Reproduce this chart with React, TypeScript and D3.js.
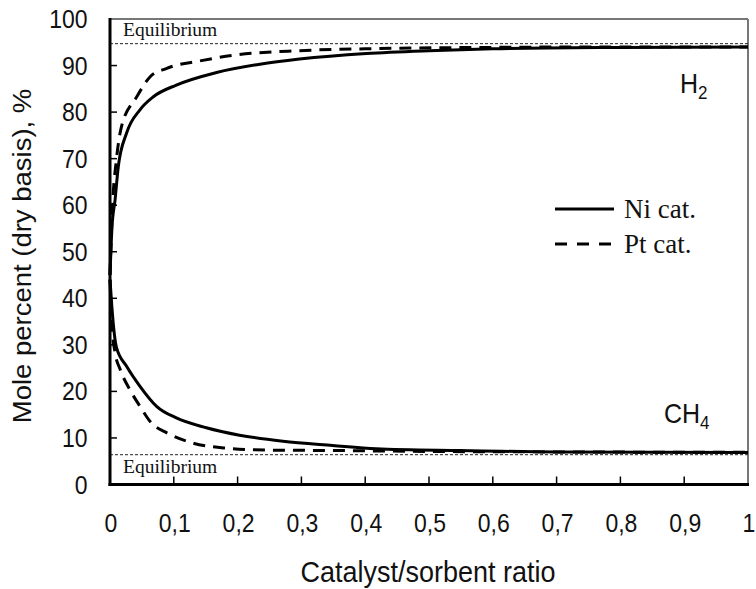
import React from "react";
import * as d3 from "d3";

const niH2X = [0, 0.003, 0.008, 0.013, 0.026, 0.047, 0.068, 0.104, 0.167, 0.235, 0.297, 0.402, 0.5, 0.6, 0.8, 1.0];
const niH2Y = [45, 55, 61.2, 68.3, 75.5, 80.5, 83.3, 85.8, 88.5, 90.3, 91.4, 92.6, 93.2, 93.6, 93.9, 94.0];

const ptH2X = [0, 0.004, 0.01, 0.018, 0.042, 0.063, 0.089, 0.141, 0.193, 0.297, 0.4, 0.6, 0.8, 1.0];
const ptH2Y = [45, 60, 69.7, 76.9, 83.3, 87.6, 89.4, 91.0, 92.2, 93.2, 93.6, 93.9, 94.0, 94.0];

const niCH4X = [0, 0.003, 0.005, 0.01, 0.026, 0.047, 0.073, 0.104, 0.151, 0.203, 0.271, 0.349, 0.417, 0.55, 0.7, 1.0];
const niCH4Y = [44, 38, 34.7, 29.5, 25.4, 21.1, 16.8, 14.3, 12.2, 10.6, 9.3, 8.4, 7.7, 7.3, 7.0, 6.9];

const ptCH4X = [0, 0.003, 0.008, 0.016, 0.031, 0.047, 0.065, 0.089, 0.13, 0.183, 0.245, 0.35, 0.5, 0.7, 1.0];
const ptCH4Y = [44, 34, 28.3, 24.7, 20.4, 16.8, 13.2, 11.1, 8.9, 7.8, 7.4, 7.3, 7.1, 7.0, 6.9];

const eqH2 = 94.7;
const eqCH4 = 6.4;

const xTicks = [0, 0.1, 0.2, 0.3, 0.4, 0.5, 0.6, 0.7, 0.8, 0.9, 1];
const xTickLabels = ["0", "0,1", "0,2", "0,3", "0,4", "0,5", "0,6", "0,7", "0,8", "0,9", "1"];
const yTicks = [0, 10, 20, 30, 40, 50, 60, 70, 80, 90, 100];

const legendLabels = ["Ni cat.", "Pt cat."];

const W = 756;
const H = 589;
const L = 110, R = 748, T = 19, B = 484.5;

export default function App() {
  const x = d3.scaleLinear().domain([0, 1]).range([L, R]);
  const y = d3.scaleLinear().domain([0, 100]).range([B, T]);
  const line = (xs: number[], ys: number[]) =>
    d3.line<number>().x((_, i) => x(xs[i])).y((d) => y(d)).curve(d3.curveMonotoneX)(ys) || "";

  const arial = "Arial, 'Liberation Sans', sans-serif";
  const times = "'Times New Roman', 'Liberation Serif', serif";
  const dash = "12,8";

  return (
    <svg width={W} height={H} style={{ position: "absolute", left: 0, top: 0 }} xmlns="http://www.w3.org/2000/svg">
      <rect width={W} height={H} fill="#fff" />
      <line x1={L} x2={R} y1={T} y2={T} stroke="#777" strokeWidth={2} />
      <line x1={R} x2={R} y1={T} y2={B} stroke="#777" strokeWidth={2} />
      <line x1={L} x2={R} y1={y(eqH2)} y2={y(eqH2)} stroke="#222" strokeWidth={1} strokeDasharray="3,2" />
      <line x1={L} x2={R} y1={y(eqCH4)} y2={y(eqCH4)} stroke="#222" strokeWidth={1} strokeDasharray="3,2" />
      <text x={123} y={36} fontFamily={times} fontSize={19.5} fill="#111">Equilibrium</text>
      <text x={123} y={473} fontFamily={times} fontSize={19.5} fill="#111">Equilibrium</text>
      <path d={line(ptH2X, ptH2Y)} fill="none" stroke="#000" strokeWidth={3} strokeDasharray={dash} />
      <path d={line(ptCH4X, ptCH4Y)} fill="none" stroke="#000" strokeWidth={3} strokeDasharray={dash} />
      <path d={line(niH2X, niH2Y)} fill="none" stroke="#000" strokeWidth={3} />
      <path d={line(niCH4X, niCH4Y)} fill="none" stroke="#000" strokeWidth={3} />
      <line x1={L} x2={L} y1={T - 1} y2={B + 1.5} stroke="#000" strokeWidth={3} />
      <line x1={L - 1.5} x2={R + 1} y1={B} y2={B} stroke="#000" strokeWidth={3} />
      {yTicks.slice(1, -1).map((t) => (
        <line key={"yt" + t} x1={L} x2={L + 7} y1={y(t)} y2={y(t)} stroke="#000" strokeWidth={1.5} />
      ))}
      {xTicks.slice(1, -1).map((t) => (
        <line key={"xt" + t} x1={x(t)} x2={x(t)} y1={B} y2={B - 8} stroke="#000" strokeWidth={1.5} />
      ))}
      {yTicks.map((t) => (
        <text key={"yl" + t} transform={`translate(87.5,${y(t) + 9}) scale(1,1.1)`} textAnchor="end"
          fontFamily={arial} fontSize={23} fill="#111">{t}</text>
      ))}
      {xTicks.map((t, i) => (
        <text key={"xl" + t} transform={`translate(${x(t) + 1},531.5) scale(1,1.1)`} textAnchor="middle"
          fontFamily={arial} fontSize={23} fill="#111">{xTickLabels[i]}</text>
      ))}
      <text transform={`translate(428,582) scale(1,1.1)`} textAnchor="middle" fontFamily={arial} fontSize={27} fill="#111">
        Catalyst/sorbent ratio
      </text>
      <text transform={`translate(31,256) rotate(-90) scale(1.1,1)`} textAnchor="middle" fontFamily={arial} fontSize={25} fill="#111">
        Mole percent (dry basis), %
      </text>
      <text transform={`translate(680,93) scale(1,1.1)`} fontFamily={arial} fontSize={25} fill="#111">
        H<tspan fontSize={17} dy={5}>2</tspan>
      </text>
      <text transform={`translate(664,423) scale(1,1.1)`} fontFamily={arial} fontSize={25} fill="#111">
        CH<tspan fontSize={17} dy={5}>4</tspan>
      </text>
      <line x1={555} x2={614} y1={209} y2={209} stroke="#000" strokeWidth={3} />
      <line x1={555} x2={614} y1={244} y2={244} stroke="#000" strokeWidth={3} strokeDasharray="12,10" />
      <text x={624} y={217.5} fontFamily={times} fontSize={27} fill="#111">{legendLabels[0]}</text>
      <text x={624} y={252.5} fontFamily={times} fontSize={27} fill="#111">{legendLabels[1]}</text>
    </svg>
  );
}
